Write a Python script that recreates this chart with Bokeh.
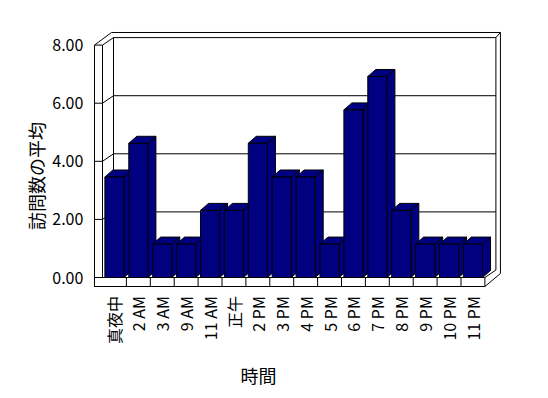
from bokeh.plotting import figure
from bokeh.models import Range1d
from bokeh.core.properties import value
from bokeh.embed import file_html
from bokeh.resources import INLINE

# ---- data ----
categories = ["真夜中", "2 AM", "3 AM", "9 AM", "11 AM", "正午", "2 PM", "3 PM",
              "4 PM", "5 PM", "6 PM", "7 PM", "8 PM", "9 PM", "10 PM", "11 PM"]
values = [3.46, 4.62, 1.15, 1.15, 2.31, 2.31, 4.62, 3.46,
          3.46, 1.15, 5.77, 6.92, 2.31, 1.15, 1.15, 1.15]
y_ticks = [0, 2, 4, 6, 8]
y_tick_labels = ["0.00", "2.00", "4.00", "6.00", "8.00"]
x_title = "時間"
y_title = "訪問数の平均"

FONT = value("Noto Sans CJK JP")
NAVY = "#000080"

n = len(categories)
ymax = y_ticks[-1]

# scale: 1 category = 23.9 px, 1 value unit = 29.05 px
W, H = 540, 390
SX, SY = 23.9, 29.05
X0PX, Y0PX = 102, 277          # canvas position of (0, 0) on the front plane

x_start = -X0PX / SX
x_end = (W - X0PX) / SX
y_start = (Y0PX - H) / SY
y_end = Y0PX / SY

# geometry (in data units)
WDX, WDY = 0.46, 0.258    # wall depth offset
BDX, BDY = 0.335, 0.241   # bar depth offset
GAP = 0.1                 # gap at each side of bar
WALL_T = 0.335            # left wall thickness
FLOOR_T = 0.31            # floor thickness
OUT_X, OUT_Y = 16.65, 8.434

p = figure(width=W, height=H, output_backend="svg", toolbar_location=None,
           x_range=Range1d(x_start, x_end), y_range=Range1d(y_start, y_end),
           x_axis_type=None, y_axis_type=None,
           min_border=0, min_border_left=0, min_border_right=0,
           min_border_top=0, min_border_bottom=0)
p.outline_line_color = None
p.grid.visible = False
p.background_fill_color = "white"

LK = dict(line_color="black", line_width=1)

# ---- back wall ----
bx0, bx1 = WDX, n + WDX
p.multi_line(
    xs=[[bx0, bx0, bx1, bx1], [0.377, OUT_X, OUT_X], [bx1, OUT_X]],
    ys=[[WDY, ymax + WDY, ymax + WDY, WDY], [OUT_Y, OUT_Y, 0.138], [ymax + WDY, OUT_Y]],
    **LK)
# gridlines on back wall and left wall
gx, gy = [], []
for t in y_ticks[1:-1]:
    gx.append([-WALL_T, 0, WDX, n + WDX])
    gy.append([t, t, t + WDY, t + WDY])
p.multi_line(xs=gx, ys=gy, **LK)

# ---- left wall ----
p.quad(left=[-WALL_T], right=[0], bottom=[-FLOOR_T], top=[ymax],
       fill_color=None, **LK)
p.multi_line(xs=[[-WALL_T, 0.377], [0, WDX]],
             ys=[[ymax, OUT_Y], [ymax, ymax + WDY]], **LK)

# ---- floor ----
p.quad(left=[-WALL_T], right=[n], bottom=[-FLOOR_T], top=[0],
       fill_color="white", **LK)
p.multi_line(xs=[[i, i] for i in range(1, n)] + [[n, n + WDX], [n, OUT_X]],
             ys=[[-FLOOR_T, 0] for _ in range(1, n)] + [[0, WDY], [-FLOOR_T, 0.138]],
             **LK)

# ---- bars ----
lefts = [i + GAP for i in range(n)]
rights = [i + 1 - GAP for i in range(n)]
side_xs = [[r, r + BDX, r + BDX, r] for r in rights]
side_ys = [[0, BDY, v + BDY, v] for v in values]
top_xs = [[l, l + BDX, r + BDX, r] for l, r in zip(lefts, rights)]
top_ys = [[v, v + BDY, v + BDY, v] for v in values]
p.patches(xs=side_xs, ys=side_ys, fill_color=NAVY, **LK)
p.patches(xs=top_xs, ys=top_ys, fill_color=NAVY, **LK)
p.quad(left=lefts, right=rights, bottom=[0] * n, top=values, fill_color=NAVY, **LK)

# ---- tick labels ----
p.text(x=[-0.80] * len(y_ticks), y=y_ticks, text=y_tick_labels,
       text_font=FONT, text_font_size="16px", text_color="black",
       text_align="right", text_baseline="middle")
p.text(x=[i + 0.5 for i in range(n)], y=[-0.64] * n, text=categories,
       angle=1.5708, text_font=FONT, text_font_size="16px", text_color="black",
       text_align="right", text_baseline="middle")

# ---- titles ----
p.text(x=[6.53], y=[-3.37], text=[x_title], text_font=FONT,
       text_font_size="18px", text_color="black",
       text_align="center", text_baseline="middle")
p.text(x=[-2.80], y=[3.49], text=[y_title], angle=1.5708, text_font=FONT,
       text_font_size="18px", text_color="black",
       text_align="center", text_baseline="middle")

open("out.html", "w").write(file_html(p, INLINE))
